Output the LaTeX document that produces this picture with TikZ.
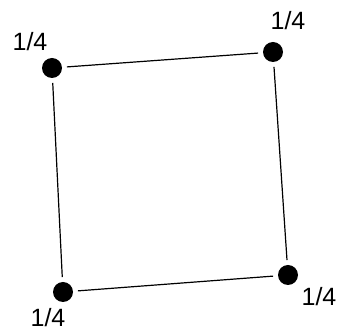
\documentclass[tikz,border=0pt]{standalone}
\usepackage{fontspec}
\setmainfont{Liberation Sans}
\usepackage{tikz}

\begin{document}
\begin{tikzpicture}[x=0.5pt, y=-0.5pt,
  vertex/.style={circle, fill=black, inner sep=0pt, minimum size=10pt, outer sep=2.5pt},
  weight/.style={inner sep=0pt, font=\fontsize{12.5}{15}\selectfont}]
\useasboundingbox (0,0) rectangle (338,331);
\node[vertex] (tl) at (52,68) {};
\node[vertex] (tr) at (273,52) {};
\node[vertex] (br) at (288,275) {};
\node[vertex] (bl) at (63,292) {};
\node[weight] (wtl) at (30,42) {1/4};
\node[weight] (wtr) at (288,21) {1/4};
\node[weight] (wbr) at (319,297) {1/4};
\node[weight] (wbl) at (48,318) {1/4};
\draw[line width=0.6pt] (tl) -- (tr);
\draw[line width=0.6pt] (tr) -- (br);
\draw[line width=0.6pt] (br) -- (bl);
\draw[line width=0.6pt] (bl) -- (tl);
\end{tikzpicture}
\end{document}
